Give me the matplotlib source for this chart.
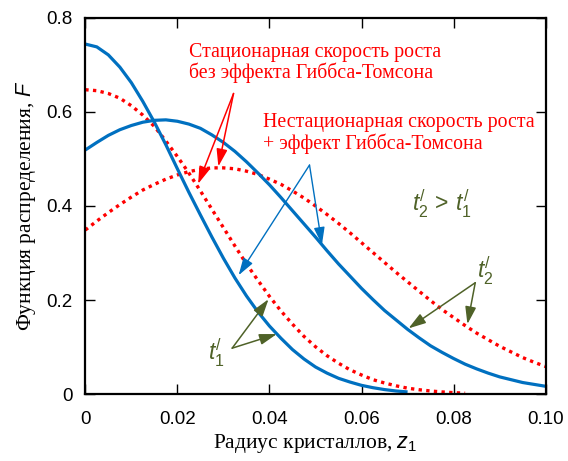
import numpy as np
import matplotlib
matplotlib.use("Agg")
import matplotlib.pyplot as plt

plt.rcParams["mathtext.fontset"] = "custom"
plt.rcParams["mathtext.it"] = "Liberation Sans:italic"
plt.rcParams["mathtext.rm"] = "Liberation Sans"
plt.rcParams["mathtext.cal"] = "Liberation Sans"

# --------------------------------------------------
# data (step 0.0025 in z1)
# --------------------------------------------------
z = np.linspace(0, 0.1, 41)

# t1' - narrow curves
blue_t1 = [0.744, 0.738, 0.721, 0.695, 0.662, 0.622, 0.578, 0.530, 0.479, 0.429,
           0.381, 0.334, 0.289, 0.247, 0.209, 0.175, 0.145, 0.119, 0.095, 0.075,
           0.058, 0.045, 0.034, 0.026, 0.019, 0.014, 0.010, 0.007, 0.005]
red_t1 = [0.647, 0.645, 0.639, 0.629, 0.613, 0.593, 0.569, 0.538, 0.505, 0.470,
          0.432, 0.393, 0.354, 0.315, 0.277, 0.242, 0.208, 0.177, 0.149, 0.123,
          0.101, 0.082, 0.066, 0.052, 0.041, 0.031, 0.024, 0.018, 0.013, 0.0097,
          0.007, 0.005, 0.0035, 0.0024]

# t2' - broad curves
blue_t2 = [0.519, 0.535, 0.550, 0.562, 0.571, 0.578, 0.582, 0.583, 0.580, 0.574,
           0.565, 0.551, 0.535, 0.516, 0.494, 0.470, 0.445, 0.418, 0.390, 0.362,
           0.334, 0.305, 0.277, 0.251, 0.225, 0.201, 0.178, 0.158, 0.138, 0.120,
           0.103, 0.089, 0.076, 0.064, 0.054, 0.045, 0.037, 0.031, 0.025, 0.021,
           0.017]
red_t2 = [0.349, 0.368, 0.386, 0.403, 0.419, 0.434, 0.446, 0.457, 0.466, 0.473,
          0.478, 0.481, 0.481, 0.479, 0.474, 0.467, 0.457, 0.446, 0.432, 0.417,
          0.400, 0.382, 0.363, 0.343, 0.322, 0.301, 0.280, 0.259, 0.239, 0.219,
          0.199, 0.180, 0.163, 0.146, 0.130, 0.116, 0.102, 0.090, 0.078, 0.068,
          0.059]

x_ticks = [0, 0.02, 0.04, 0.06, 0.08, 0.10]
x_tick_labels = ["0", "0.02", "0.04", "0.06", "0.08", "0.10"]
y_ticks = [0, 0.2, 0.4, 0.6, 0.8]
y_tick_labels = ["0", "0.2", "0.4", "0.6", "0.8"]

BLUE = "#0070C0"
RED = "#FF0000"
OLIVE = "#4F6228"
SERIF = "Liberation Serif"
SANS = "Liberation Sans"

# --------------------------------------------------
# figure
# --------------------------------------------------
fig = plt.figure(figsize=(5.68, 4.61), dpi=100)
ax = fig.add_axes([0.1502, 0.1447, 0.8105, 0.8169])

dots = dict(color=RED, lw=2.4, linestyle=(0, (1, 1.3)), dash_capstyle="butt")
ax.plot(z[:len(red_t1)], red_t1, **dots)
ax.plot(z, red_t2, **dots)
ax.plot(z[:len(blue_t1)], blue_t1, color=BLUE, lw=2.3, solid_capstyle="butt")
ax.plot(z, blue_t2, color=BLUE, lw=2.3, solid_capstyle="butt")

ax.set_xlim(0, 0.1)
ax.set_ylim(0, 0.8)
ax.set_xticks(x_ticks)
ax.set_xticklabels(x_tick_labels)
ax.set_yticks(y_ticks)
ax.set_yticklabels(y_tick_labels)
ax.tick_params(direction="in", length=7.5, width=1.0, top=True, right=True,
               labelsize=13.5)
ax.tick_params(axis="x", pad=12)
ax.tick_params(axis="y", pad=9)
for lab in ax.get_xticklabels() + ax.get_yticklabels():
    lab.set_family(SANS)
for sp in ax.spines.values():
    sp.set_linewidth(1.6)

ax.set_xlabel("Радиус кристаллов, $z_1$", family=SERIF, fontsize=15.5, labelpad=3)
ax.set_ylabel("Функция распределения, $F$", family=SERIF, fontsize=15.5, labelpad=6)

# --------------------------------------------------
# annotations
# --------------------------------------------------
ax.text(0.0226, 0.747, "Стационарная скорость роста\nбез эффекта Гиббса-Томсона",
        family=SERIF, fontsize=14.3, color=RED, va="top", linespacing=1.05)
ax.text(0.0385, 0.597, "Нестационарная скорость роста\n+ эффект Гиббса-Томсона",
        family=SERIF, fontsize=14.3, color=RED, va="top", linespacing=1.05)


def arrow(start, tip, color, lw):
    ax.annotate("", xy=tip, xytext=start,
                arrowprops=dict(arrowstyle="-|>,head_length=0.7,head_width=0.22",
                                color=color, lw=lw, mutation_scale=15,
                                shrinkA=0, shrinkB=0))


arrow((0.0322, 0.639), (0.0245, 0.447), RED, 1.1)
arrow((0.0322, 0.639), (0.0289, 0.484), RED, 1.1)
arrow((0.0487, 0.487), (0.0333, 0.253), BLUE, 1.0)
arrow((0.0487, 0.487), (0.0514, 0.318), BLUE, 1.0)
arrow((0.0319, 0.098), (0.0398, 0.202), OLIVE, 1.1)
arrow((0.0319, 0.098), (0.0416, 0.128), OLIVE, 1.1)
arrow((0.0847, 0.237), (0.0702, 0.140), OLIVE, 1.1)
arrow((0.0847, 0.237), (0.0830, 0.149), OLIVE, 1.1)

t1_lab = r"$t_1^{/}$"
t2_lab = r"$t_2^{/}$"
ax.text(0.0285, 0.088, t1_lab, color=OLIVE, fontsize=16.5,
        ha="center", va="center")
ax.text(0.0868, 0.262, t2_lab, color=OLIVE, fontsize=16.5,
        ha="center", va="center")
ax.text(0.0775, 0.404, r"$t_2^{/}\,>\,t_1^{/}$", color=OLIVE, fontsize=16.5,
        ha="center", va="center")

fig.savefig("out.png", dpi=100)
